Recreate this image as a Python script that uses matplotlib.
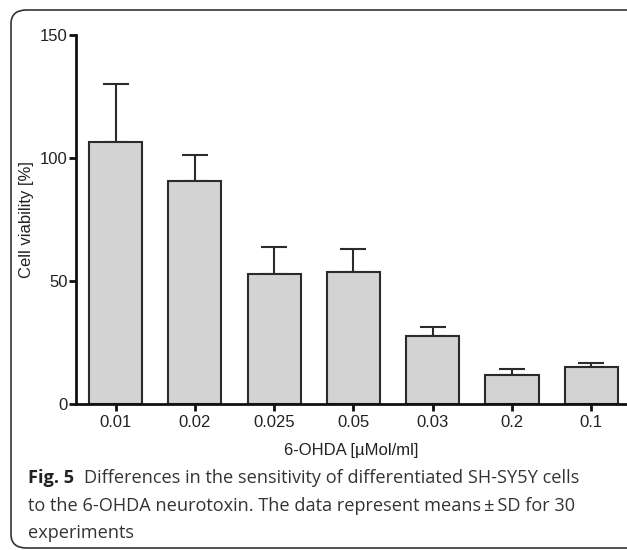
import numpy as np
import matplotlib.pyplot as plt
from matplotlib.patches import FancyBboxPatch

doses = ['0.01', '0.02', '0.025', '0.05', '0.03', '0.2', '0.1']
viability = [106.6, 90.6, 53.0, 53.8, 27.6, 11.8, 15.0]
sd = [23.5, 10.6, 10.9, 9.2, 3.6, 2.4, 1.5]

W, H = 627, 550
fig = plt.figure(figsize=(W / 100, H / 100), dpi=100)

# rounded frame around the figure (runs off the right/bottom edge)
frame = FancyBboxPatch((11 / W, (H - 548) / H), 700 / W, 538 / H,
                       boxstyle='round,pad=0,rounding_size=0.025',
                       transform=fig.transFigure, fill=False,
                       edgecolor='#333333', linewidth=1.2)
fig.patches.append(frame)

ax = fig.add_axes([76 / W, (H - 404) / H, (W - 76) / W, (404 - 35) / H])
x = np.arange(len(doses))
ax.bar(x, viability, width=0.67, color='#d3d3d3', edgecolor='#2b2b2b',
       linewidth=1.5, zorder=2)
ax.errorbar(x, viability, yerr=[np.zeros(len(sd)), sd], fmt='none',
            ecolor='#2b2b2b', elinewidth=1.5, capsize=9.7, capthick=1.5, zorder=1)

ax.set_xlim(-0.5, 6.45)
ax.set_ylim(0, 150)
ax.set_yticks([0, 50, 100, 150])
ax.set_xticks(x)
ax.set_xticklabels(doses)
for s in ['top', 'right']:
    ax.spines[s].set_visible(False)
for s in ['left', 'bottom']:
    ax.spines[s].set_linewidth(2)
    ax.spines[s].set_color('#111111')
ax.tick_params(width=2, length=5, color='#111111', labelsize=12,
               labelcolor='#222222')
ax.tick_params(axis='y', pad=1)
ax.tick_params(axis='x', pad=3)
for lab in ax.get_xticklabels() + ax.get_yticklabels():
    lab.set_fontfamily('Liberation Sans')
ax.set_ylabel('Cell viability [%]', fontsize=12, family='Liberation Sans',
              color='#222222', labelpad=4)
ax.set_xlabel('6-OHDA [\u00b5Mol/ml]', fontsize=12, family='Liberation Sans',
              color='#222222', labelpad=9)

# caption
cap_font = 'Open Sans'
cap_size = 13.1
x0 = 28 / W
t = fig.text(x0, 1 - 478 / H, 'Fig. 5', fontsize=cap_size, family=cap_font,
             fontweight='bold', color='#222222', va='center')
fig.canvas.draw()
bb = t.get_window_extent()
fig.text(bb.x1 / W + 10 / W, 1 - 478 / H,
         'Differences in the sensitivity of differentiated SH-SY5Y cells',
         fontsize=cap_size, family=cap_font, color='#333333', va='center')
fig.text(x0, 1 - 506 / H,
         'to the 6-OHDA neurotoxin. The data represent means\u2009\u00b1\u2009SD for 30',
         fontsize=cap_size, family=cap_font, color='#333333', va='center')
fig.text(x0, 1 - 533 / H, 'experiments', fontsize=cap_size, family=cap_font,
         color='#333333', va='center')

fig.savefig('out.png', dpi=100)
